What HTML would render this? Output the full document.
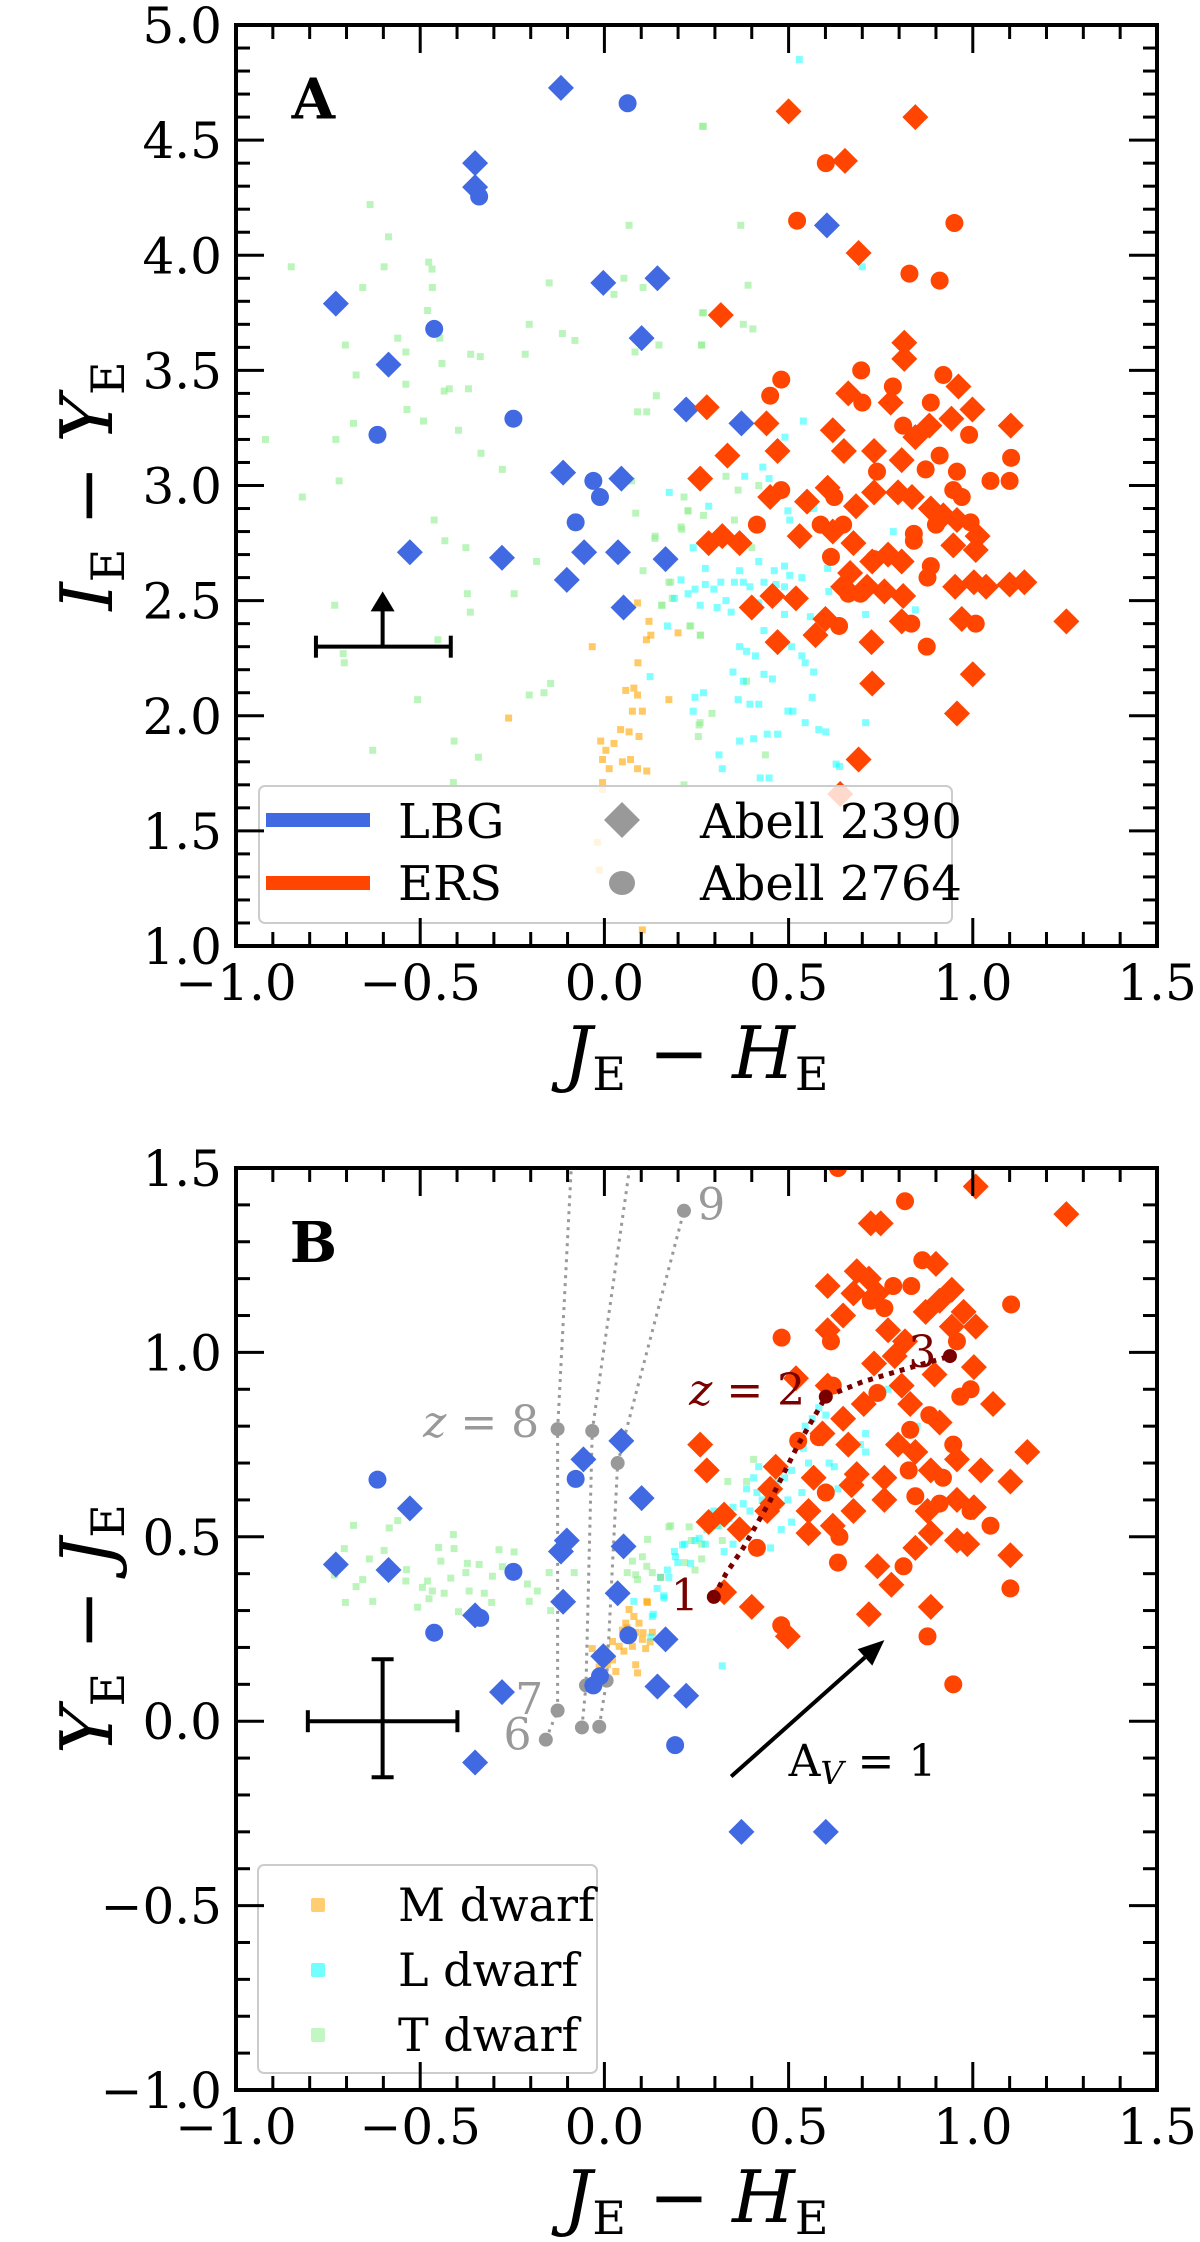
<!DOCTYPE html>
<html><head><meta charset="utf-8"><style>
html,body{margin:0;padding:0;background:#fff;}
svg{display:block;font-family:"DejaVu Serif","Liberation Serif",serif;}
</style></head><body>
<svg id="fig" xmlns="http://www.w3.org/2000/svg" width="1200" height="2242" viewBox="0 0 1200 2242"></svg>
<script>
// ===== Panel A data: J-H (x), I-Y (y) =====
const lbgA_diamond_x=[-0.118,-0.351,-0.351,-0.729,-0.586,-0.003,0.144,0.101,0.222,-0.112,0.046,-0.528,-0.278,-0.055,0.037,0.166,-0.102,0.052,0.372,0.604];
const lbgA_diamond_y=[4.727,4.40,4.296,3.79,3.525,3.88,3.90,3.64,3.33,3.056,3.03,2.71,2.686,2.71,2.71,2.68,2.59,2.47,3.27,4.13];
const lbgA_circle_x=[0.063,-0.34,-0.462,-0.616,-0.247,-0.03,-0.012,-0.078];
const lbgA_circle_y=[4.66,4.255,3.68,3.22,3.29,3.02,2.95,2.84];
const ersA_diamond_x=[0.50,0.844,0.653,0.69,0.316,0.814,0.814,0.662,0.777,0.961,0.999,1.103,0.278,0.44,0.62,0.47,0.65,0.334,0.732,0.807,0.844,0.882,0.942,0.26,0.45,0.55,0.606,0.683,0.732,0.797,0.835,0.886,0.92,0.957,1.013,0.283,0.32,0.367,0.53,0.62,0.676,0.727,0.77,0.807,0.947,1.008,0.667,0.648,0.713,0.76,0.811,0.952,1.003,1.036,1.1,1.14,1.254,0.40,0.456,0.52,0.6,0.807,0.97,0.573,0.47,0.725,1.0,0.727,0.957,0.69,0.64];
const ersA_diamond_y=[4.625,4.60,4.41,4.01,3.74,3.62,3.55,3.40,3.36,3.43,3.33,3.26,3.34,3.27,3.24,3.15,3.15,3.13,3.15,3.11,3.21,3.26,3.29,3.03,2.95,2.93,2.99,2.91,2.97,2.97,2.95,2.90,2.87,2.85,2.78,2.75,2.78,2.75,2.78,2.80,2.75,2.67,2.70,2.67,2.74,2.72,2.62,2.56,2.56,2.54,2.52,2.56,2.58,2.56,2.57,2.58,2.41,2.47,2.52,2.51,2.42,2.41,2.42,2.35,2.32,2.32,2.18,2.14,2.01,1.81,1.66];
const ersA_circle_x=[0.601,0.523,0.95,0.828,0.91,0.697,0.48,0.45,0.783,0.7,0.92,0.886,0.811,0.99,0.91,1.104,0.872,0.74,0.957,1.048,1.1,0.48,0.624,0.947,0.97,0.414,0.587,0.648,0.84,0.9,0.994,0.615,0.732,0.84,0.886,0.877,0.695,0.662,0.637,0.833,1.008,0.875];
const ersA_circle_y=[4.40,4.15,4.14,3.92,3.89,3.50,3.46,3.39,3.43,3.36,3.48,3.36,3.26,3.22,3.13,3.12,3.07,3.06,3.06,3.02,3.02,2.98,2.95,2.98,2.95,2.83,2.83,2.83,2.79,2.83,2.84,2.69,2.68,2.76,2.65,2.60,2.53,2.53,2.39,2.40,2.40,2.30];
const mdwA_x=[-0.033,0.09,0.114,0.126,0.091,0.08,0.09,0.058,0.076,0.103,0.175,0.044,0.067,0.094,-0.01,0.026,0.004,-0.005,0.049,0.071,0.09,0.115,0.013,-0.005,-0.005,-0.26,0.103,-0.019,-0.014,0.121,0.2];
const mdwA_y=[2.30,2.49,2.33,2.35,2.23,2.12,2.09,2.11,2.02,2.02,2.07,1.94,1.93,1.91,1.89,1.88,1.85,1.81,1.80,1.81,1.77,1.76,1.77,1.71,1.68,1.99,1.07,1.45,1.33,2.41,2.36];
const ldwA_x=[0.54,0.49,0.43,0.447,0.381,0.176,0.283,0.498,0.503,0.428,0.568,0.241,0.274,0.367,0.419,0.461,0.489,0.503,0.536,0.606,0.208,0.274,0.316,0.353,0.377,0.395,0.433,0.466,0.489,0.246,0.297,0.33,0.227,0.19,0.171,0.26,0.306,0.344,0.419,0.489,0.559,0.609,0.709,0.844,0.433,0.386,0.41,0.367,0.536,0.508,0.349,0.433,0.456,0.545,0.568,0.377,0.246,0.269,0.363,0.395,0.419,0.241,0.564,0.498,0.512,0.545,0.582,0.367,0.405,0.442,0.47,0.601,0.32,0.311,0.423,0.447,0.629,0.638,0.784,0.7,0.529,0.124,0.709];
const ldwA_y=[3.28,3.21,3.08,3.03,3.04,2.97,2.91,2.89,2.85,2.84,2.90,2.73,2.64,2.63,2.67,2.63,2.65,2.61,2.60,2.64,2.59,2.57,2.58,2.58,2.58,2.56,2.58,2.57,2.56,2.55,2.55,2.50,2.53,2.51,2.39,2.48,2.47,2.45,2.49,2.44,2.43,2.54,2.44,2.46,2.37,2.28,2.26,2.30,2.26,2.30,2.19,2.18,2.16,2.23,2.19,2.15,2.08,2.10,2.07,2.05,2.05,2.02,2.08,2.02,2.02,1.97,1.94,1.89,1.90,1.92,1.92,1.93,1.77,1.83,1.73,1.73,1.79,1.78,2.80,3.95,4.85,2.17,1.97];
const tdwA_x=[-0.636,-0.586,-0.598,-0.656,-0.477,-0.468,-0.467,-0.48,-0.703,-0.561,-0.539,-0.447,-0.674,-0.441,-0.539,-0.421,-0.435,-0.369,-0.363,-0.337,-0.536,-0.491,-0.681,-0.729,-0.396,-0.335,-0.277,-0.72,-0.462,-0.433,-0.376,-0.184,-0.245,-0.372,-0.364,-0.732,-0.452,-0.709,-0.706,-0.507,-0.204,-0.164,-0.146,-0.629,-0.408,-0.342,-0.41,-0.15,-0.114,-0.08,-0.204,-0.215,0.053,0.026,0.105,0.083,0.148,0.067,0.141,0.09,0.115,0.266,0.266,0.264,0.074,0.085,0.216,0.227,0.21,0.137,0.105,0.175,0.184,0.155,0.234,0.261,0.257,0.255,0.216,0.269,0.37,0.39,0.377,0.403,0.264,0.269,0.363,0.33,0.419,0.227,0.269,0.353,0.208,0.138,0.4,0.18,0.157,0.232,0.26,0.386,0.292,0.26,0.437,-0.85,-0.92,-0.82];
const tdwA_y=[4.22,4.08,3.95,3.86,3.97,3.94,3.86,3.76,3.61,3.64,3.58,3.64,3.48,3.53,3.44,3.42,3.41,3.42,3.57,3.56,3.33,3.28,3.27,3.20,3.24,3.14,3.07,3.02,2.85,2.76,2.73,2.67,2.53,2.53,2.45,2.48,2.33,2.27,2.23,2.07,2.09,2.10,2.14,1.85,1.89,1.82,1.71,3.88,3.66,3.63,3.70,3.57,3.90,3.83,3.86,3.58,3.61,4.13,3.39,3.32,3.32,4.56,3.75,3.61,3.02,2.88,2.95,2.89,2.81,2.77,2.63,2.58,2.51,2.48,2.39,2.35,1.96,1.91,1.70,4.56,4.13,3.87,3.70,3.68,3.61,3.75,2.98,3.04,3.00,2.89,2.87,2.85,2.82,2.78,2.73,2.58,2.48,2.39,2.35,2.15,2.01,1.97,1.83,3.95,3.20,2.95];

// ===== Panel B data: J-H (x), Y-J (y) =====
const lbgB_diamond_x=[-0.729,-0.586,-0.528,-0.351,-0.351,-0.278,-0.102,-0.118,-0.112,-0.057,0.046,0.101,0.052,0.036,-0.003,0.166,0.144,0.222,0.372,0.601];
const lbgB_diamond_y=[0.425,0.41,0.577,0.287,-0.112,0.079,0.49,0.46,0.324,0.71,0.76,0.605,0.474,0.347,0.176,0.222,0.094,0.069,-0.30,-0.30];
const lbgB_circle_x=[-0.616,-0.247,-0.462,-0.337,-0.078,0.065,-0.012,-0.03,0.192];
const lbgB_circle_y=[0.655,0.405,0.24,0.28,0.657,0.233,0.122,0.097,-0.065];
const ersB_diamond_x=[1.008,1.254,0.723,0.75,0.90,0.685,0.606,0.718,0.676,0.74,0.943,0.91,0.648,0.606,0.975,1.008,0.943,0.77,0.816,0.872,0.732,0.788,1.003,0.896,0.807,0.52,0.606,0.704,0.83,1.055,0.648,0.91,0.592,0.26,0.662,0.797,1.148,0.844,0.278,0.465,0.568,0.685,0.76,0.886,0.957,1.022,1.102,0.45,0.671,0.76,0.957,1.003,0.554,0.676,0.456,0.325,0.283,0.367,0.442,0.62,0.877,0.886,0.554,0.957,0.985,0.844,1.102,0.741,0.779,0.325,0.40,0.886,0.718,0.498];
const ersB_diamond_y=[1.45,1.375,1.35,1.35,1.24,1.22,1.18,1.20,1.16,1.16,1.17,1.14,1.10,1.06,1.11,1.07,1.07,1.06,1.03,1.11,0.97,0.99,0.96,0.94,0.91,0.93,0.91,0.86,0.86,0.86,0.82,0.81,0.78,0.75,0.75,0.75,0.73,0.73,0.68,0.69,0.66,0.67,0.66,0.68,0.71,0.68,0.65,0.63,0.64,0.60,0.60,0.58,0.57,0.57,0.59,0.56,0.54,0.52,0.57,0.53,0.57,0.51,0.51,0.49,0.48,0.47,0.45,0.42,0.37,0.35,0.31,0.31,0.29,0.23];
const ersB_circle_x=[0.816,0.863,0.784,0.833,0.723,0.76,1.104,0.481,0.615,0.957,0.62,0.994,0.966,0.741,0.882,0.582,0.83,0.947,0.826,0.919,0.601,0.844,0.91,0.994,1.048,0.638,0.414,0.634,0.812,1.102,0.48,0.877,0.947,0.526,0.634];
const ersB_circle_y=[1.41,1.25,1.18,1.18,1.14,1.12,1.13,1.04,1.03,1.03,0.91,0.90,0.88,0.89,0.83,0.77,0.79,0.75,0.68,0.66,0.62,0.61,0.59,0.57,0.53,0.50,0.47,0.43,0.42,0.36,0.26,0.23,0.10,0.76,1.50];
const mdwB_x=[0.067,0.08,0.058,0.094,0.049,0.085,0.103,0.076,0.04,0.022,-0.033,0.004,-0.019,0.053,0.112,0.022,0.008,0.031,-0.014,0.09,0.117,0.153,0.166,0.062,0.13,0.085,0.115,0.105,0.124];
const mdwB_y=[0.303,0.284,0.266,0.266,0.247,0.241,0.222,0.203,0.203,0.216,0.197,0.197,0.178,0.19,0.197,0.166,0.153,0.135,0.147,0.131,0.322,0.39,0.228,0.253,0.241,0.153,0.325,0.24,0.215];
const ldwB_x=[0.582,0.601,0.564,0.545,0.709,0.695,0.709,0.624,0.61,0.54,0.522,0.554,0.508,0.489,0.47,0.405,0.419,0.386,0.414,0.377,0.349,0.32,0.339,0.306,0.278,0.246,0.218,0.19,0.199,0.171,0.152,0.143,0.161,0.133,0.32,0.48,0.508,0.536,0.634,0.77,0.849,0.451,0.423,0.325,0.349,0.274,0.498,0.428,0.395,0.372,0.297,0.193,0.212,0.234,0.257,0.175,0.162,0.13,0.08,0.126];
const ldwB_y=[0.85,0.83,0.82,0.80,0.78,0.75,0.73,0.69,0.70,0.74,0.75,0.70,0.68,0.66,0.65,0.66,0.69,0.63,0.62,0.59,0.58,0.57,0.55,0.53,0.52,0.49,0.48,0.46,0.43,0.41,0.39,0.36,0.34,0.29,0.15,0.52,0.54,0.62,0.63,0.90,0.80,0.47,0.46,0.46,0.48,0.48,0.60,0.60,0.57,0.50,0.57,0.446,0.478,0.428,0.496,0.39,0.334,0.284,0.325,0.228];
const tdwB_x=[-0.681,-0.561,-0.584,-0.706,-0.638,-0.598,-0.733,-0.656,-0.674,-0.537,-0.539,-0.48,-0.494,-0.467,-0.45,-0.444,-0.41,-0.408,-0.417,-0.435,-0.476,-0.507,-0.703,-0.629,-0.376,-0.372,-0.34,-0.367,-0.326,-0.306,-0.286,-0.304,-0.277,-0.245,-0.396,-0.209,-0.182,-0.204,-0.15,-0.146,-0.082,0.076,0.117,0.085,0.175,0.23,0.13,0.062,0.103,0.09,0.18,0.236,0.264,0.311,0.335,0.405,0.386,0.218,0.246,0.115,0.264,0.32];
const tdwB_y=[0.531,0.544,0.524,0.468,0.44,0.463,0.396,0.384,0.365,0.411,0.38,0.38,0.363,0.353,0.471,0.434,0.506,0.468,0.388,0.347,0.332,0.309,0.322,0.325,0.403,0.428,0.425,0.353,0.347,0.322,0.465,0.393,0.419,0.459,0.297,0.372,0.353,0.325,0.403,0.3,0.403,0.434,0.493,0.397,0.527,0.527,0.403,0.403,0.446,0.384,0.53,0.49,0.48,0.53,0.65,0.71,0.65,0.43,0.41,0.42,0.44,0.49];
const track1_x=[-0.159,-0.127,-0.127,-0.091,-0.085];
const track1_y=[-0.05,0.029,0.792,1.48,1.60];
const track2_x=[-0.061,-0.05,-0.033,0.067,0.075];
const track2_y=[-0.017,0.097,0.787,1.49,1.60];
const track3_x=[-0.014,0.006,0.036,0.216];
const track3_y=[-0.015,0.11,0.70,1.384];
const track1_dots=[0,1,2];
const track2_dots=[0,1,2];
const track3_dots=[0,1,2,3];
const ersTrack_x=[0.297,0.33,0.377,0.451,0.526,0.601,0.70,0.80,0.938];
const ersTrack_y=[0.337,0.40,0.47,0.60,0.75,0.88,0.92,0.95,0.99];
const ersTrack_dots=[0,5,8];
const tickX=[-1.0,-0.5,0.0,0.5,1.0,1.5];
const tickYA=[1.0,1.5,2.0,2.5,3.0,3.5,4.0,4.5,5.0];
const tickYB=[-1.0,-0.5,0.0,0.5,1.0,1.5];

const NS="http://www.w3.org/2000/svg";
const svg=document.getElementById('fig');
function el(tag,attrs,parent){const e=document.createElementNS(NS,tag);for(const k in attrs)e.setAttribute(k,attrs[k]);(parent||svg).appendChild(e);return e;}
const XL=236,XR=1157;
function mkX(){return v=>XL+(v+1.0)/2.5*(XR-XL);}
const PA={top:25,bot:946,ymin:1.0,ymax:5.0};
const PB={top:1168,bot:2090,ymin:-1.0,ymax:1.5};
function mkY(P){return v=>P.bot-(v-P.ymin)/(P.ymax-P.ymin)*(P.bot-P.top);}
const sx=mkX();
const syA=mkY(PA), syB=mkY(PB);
const fmt=v=>(v<0?'\u2212':'')+Math.abs(v).toFixed(1);

function clip(id,P){const d=el('defs',{});const c=el('clipPath',{id:id},d);el('rect',{x:XL,y:P.top,width:XR-XL,height:P.bot-P.top},c);}
clip('clipA',PA);clip('clipB',PB);

const SQ=7, DM=13, CR=9;
function squares(g,xs,ys,sy,color,op,name){
  for(let i=0;i<xs.length;i++){
    const r=el('rect',{x:sx(xs[i])-SQ/2,y:sy(ys[i])-SQ/2,width:SQ,height:SQ,fill:color,'fill-opacity':op},g);
    
    
  }
}
function diamonds(g,xs,ys,sy,color,name){
  for(let i=0;i<xs.length;i++){
    const cx=sx(xs[i]),cy=sy(ys[i]);
    const p=el('path',{d:`M${cx-DM} ${cy}L${cx} ${cy-DM}L${cx+DM} ${cy}L${cx} ${cy+DM}Z`,fill:color},g);
    
    
  }
}
function circles(g,xs,ys,sy,color,name){
  for(let i=0;i<xs.length;i++){
    const c=el('ellipse',{cx:sx(xs[i]),cy:sy(ys[i]),rx:CR,ry:CR,fill:color},g);
    
    
  }
}
function axes(P,sy,ticksY,minorY,name){
  const g=el('g',{});
  
  
  for(let k=-10;k<=15;k++){const v=k/10;const x=sx(v);const major=(k%5===0);const L=major?28:14;
    el('line',{x1:x,y1:P.bot,x2:x,y2:P.bot-L,stroke:'#000','stroke-width':3},g);
    el('line',{x1:x,y1:P.top,x2:x,y2:P.top+L,stroke:'#000','stroke-width':3},g);}
  for(let v=P.ymin;v<=P.ymax+1e-6;v+=minorY){const y=sy(v);const major=Math.abs(Math.round(v*2)-v*2)<1e-6;const L=major?28:14;
    el('line',{x1:XL,y1:y,x2:XL+L,y2:y,stroke:'#000','stroke-width':3},g);
    el('line',{x1:XR,y1:y,x2:XR-L,y2:y,stroke:'#000','stroke-width':3},g);}
  el('rect',{x:XL,y:P.top,width:XR-XL,height:P.bot-P.top,fill:'none',stroke:'#000','stroke-width':4},g);
  tickX.forEach(v=>{const t=el('text',{x:sx(v),y:P.bot+54,'text-anchor':'middle','font-size':50},g);t.textContent=fmt(v);
    });
  ticksY.forEach(v=>{const t=el('text',{x:222,y:sy(v)+18,'text-anchor':'end','font-size':50},g);t.textContent=fmt(v);
    });
}
function axTitle(parent,x,y,rot,a,b,name){
  const t=el('text',{x:x,y:y,'text-anchor':'middle','font-size':72,transform:rot?`rotate(-90 ${x} ${y})`:''},parent);
  
  
  t.innerHTML=`<tspan font-style="italic">${a}</tspan><tspan font-size="46" dy="12">E</tspan><tspan dy="-12"> \u2212 </tspan><tspan font-style="italic">${b}</tspan><tspan font-size="46" dy="12">E</tspan>`;
}

// ===== PANEL A =====
const gA=el('g',{'clip-path':'url(#clipA)'});


squares(gA,tdwA_x,tdwA_y,syA,'#90ee90',0.6,'t-dwarf-point');
squares(gA,mdwA_x,mdwA_y,syA,'#ffa500',0.6,'m-dwarf-point');
squares(gA,ldwA_x,ldwA_y,syA,'#00ffff',0.5,'l-dwarf-point');
diamonds(gA,lbgA_diamond_x,lbgA_diamond_y,syA,'#4169e1','lbg-abell2390-point');
circles(gA,lbgA_circle_x,lbgA_circle_y,syA,'#4169e1','lbg-abell2764-point');
diamonds(gA,ersA_diamond_x,ersA_diamond_y,syA,'#ff4500','ers-abell2390-point');
circles(gA,ersA_circle_x,ersA_circle_y,syA,'#ff4500','ers-abell2764-point');
const ebA=el('g',{stroke:'#000','stroke-width':4,fill:'none'});


el('line',{x1:sx(-0.783),y1:syA(2.30),x2:sx(-0.417),y2:syA(2.30)},ebA);
el('line',{x1:sx(-0.783),y1:syA(2.30)-11,x2:sx(-0.783),y2:syA(2.30)+11},ebA);
el('line',{x1:sx(-0.417),y1:syA(2.30)-11,x2:sx(-0.417),y2:syA(2.30)+11},ebA);
el('line',{x1:sx(-0.602),y1:syA(2.30),x2:sx(-0.602),y2:syA(2.54)+18},ebA);
el('path',{d:`M${sx(-0.602)-12} ${syA(2.54)+20}L${sx(-0.602)} ${syA(2.54)}L${sx(-0.602)+12} ${syA(2.54)+20}Z`,fill:'#000',stroke:'none'},ebA);
const lgA=el('g',{});


el('rect',{x:259,y:786,width:693,height:137,rx:6,fill:'#fff','fill-opacity':0.8,stroke:'#cccccc','stroke-width':2},lgA);
el('line',{x1:266,y1:820,x2:370,y2:820,stroke:'#4169e1','stroke-width':14},lgA);
el('line',{x1:266,y1:883,x2:370,y2:883,stroke:'#ff4500','stroke-width':14},lgA);
[['LBG',838],['ERS',900]].forEach(([s,y])=>{const t=el('text',{x:398,y:y,'font-size':48},lgA);t.textContent=s;});
el('path',{d:'M604 820L622 802L640 820L622 838Z',fill:'#999'},lgA);
el('ellipse',{cx:622,cy:883,rx:13,ry:12,fill:'#999'},lgA);
[['Abell 2390',838],['Abell 2764',900]].forEach(([s,y])=>{const t=el('text',{x:700,y:y,'font-size':48},lgA);t.textContent=s;});
axes(PA,syA,tickYA,0.1,'panel-a-axes');
const labA=el('text',{x:sx(-0.79),y:syA(4.68)+20,'font-size':56,'font-weight':'bold','text-anchor':'middle'});
labA.textContent='A';


axTitle(svg,696,1078,false,'J','H','x-axis-title-a');
axTitle(svg,112,486,true,'I','Y','y-axis-title-a');

// ===== PANEL B =====
const gB=el('g',{'clip-path':'url(#clipB)'});


squares(gB,tdwB_x,tdwB_y,syB,'#90ee90',0.6,'t-dwarf-point');
squares(gB,mdwB_x,mdwB_y,syB,'#ffa500',0.6,'m-dwarf-point');
squares(gB,ldwB_x,ldwB_y,syB,'#00ffff',0.5,'l-dwarf-point');
function track(xs,ys,dots,color,width,dash,name){
  const pts=xs.map((x,i)=>sx(x)+','+syB(ys[i])).join(' ');
  const pl=el('polyline',{points:pts,fill:'none',stroke:color,'stroke-width':width,'stroke-dasharray':dash},gB);
  
  
  dots.forEach(i=>{el('circle',{cx:sx(xs[i]),cy:syB(ys[i]),r:7,fill:color},gB);});
}
track(track1_x,track1_y,track1_dots,'#999999',3,'3 5','lbg-track-1');
track(track2_x,track2_y,track2_dots,'#999999',3,'3 5','lbg-track-2');
track(track3_x,track3_y,track3_dots,'#999999',3,'3 5','lbg-track-3');
diamonds(gB,lbgB_diamond_x,lbgB_diamond_y,syB,'#4169e1','lbg-abell2390-point');
circles(gB,lbgB_circle_x,lbgB_circle_y,syB,'#4169e1','lbg-abell2764-point');
diamonds(gB,ersB_diamond_x,ersB_diamond_y,syB,'#ff4500','ers-abell2390-point');
circles(gB,ersB_circle_x,ersB_circle_y,syB,'#ff4500','ers-abell2764-point');
track(ersTrack_x,ersTrack_y,ersTrack_dots,'#7a0000',5,'5 6','ers-track');
function ann(x,y,s,color,anchor,name,italicZ){
  const t=el('text',{x:x,y:y,'font-size':44,fill:color,'text-anchor':anchor});
  
  
  if(italicZ){t.innerHTML=`<tspan font-style="italic">z</tspan> = ${s}`;}else t.textContent=s;
}
ann(sx(0.218),syB(0.30),'1','#7a0000','middle','z-label-1');
ann(sx(0.545),syB(0.857),'2','#7a0000','end','z-label-2',true);
ann(sx(0.863),syB(0.96),'3','#7a0000','middle','z-label-3');
ann(sx(-0.177),syB(0.77),'8','#999999','end','z-label-8',true);
ann(sx(-0.204),syB(0.02),'7','#999999','middle','z-label-7');
ann(sx(-0.236),syB(-0.077),'6','#999999','middle','z-label-6');
ann(sx(0.29),syB(1.36),'9','#999999','middle','z-label-9');
const arr=el('g',{});


{const x1=sx(0.344),y1=syB(-0.15),x2=sx(0.76),y2=syB(0.22);
 const ang=Math.atan2(y2-y1,x2-x1),hl=26,hw=11;
 const bx=x2-hl*Math.cos(ang),by=y2-hl*Math.sin(ang);
 el('line',{x1:x1,y1:y1,x2:bx,y2:by,stroke:'#000','stroke-width':4},arr);
 el('path',{d:`M${x2} ${y2}L${bx+hw*Math.sin(ang)} ${by-hw*Math.cos(ang)}L${bx-hw*Math.sin(ang)} ${by+hw*Math.cos(ang)}Z`,fill:'#000'},arr);
 const t=el('text',{x:sx(0.50),y:syB(-0.148),'font-size':44},arr);
 t.innerHTML='A<tspan font-style="italic" font-size="32" dy="8">V</tspan><tspan dy="-8"> = 1</tspan>';}
const ebB=el('g',{stroke:'#000','stroke-width':4});


el('line',{x1:sx(-0.805),y1:syB(0),x2:sx(-0.399),y2:syB(0)},ebB);
el('line',{x1:sx(-0.805),y1:syB(0)-11,x2:sx(-0.805),y2:syB(0)+11},ebB);
el('line',{x1:sx(-0.399),y1:syB(0)-11,x2:sx(-0.399),y2:syB(0)+11},ebB);
el('line',{x1:sx(-0.602),y1:syB(0.168),x2:sx(-0.602),y2:syB(-0.152)},ebB);
el('line',{x1:sx(-0.602)-11,y1:syB(0.168),x2:sx(-0.602)+11,y2:syB(0.168)},ebB);
el('line',{x1:sx(-0.602)-11,y1:syB(-0.152),x2:sx(-0.602)+11,y2:syB(-0.152)},ebB);
const lgB=el('g',{});


el('rect',{x:258,y:1865,width:339,height:208,rx:6,fill:'#fff','fill-opacity':0.8,stroke:'#cccccc','stroke-width':2},lgB);
[['M dwarf','#ffa500',1905],['L dwarf','#00ffff',1970],['T dwarf','#90ee90',2035]].forEach(([s,c,y])=>{
  el('rect',{x:311,y:y-7,width:14,height:14,rx:2,fill:c,'fill-opacity':0.55},lgB);
  const t=el('text',{x:398,y:y+16,'font-size':46},lgB);t.textContent=s;
  });
axes(PB,syB,tickYB,0.1,'panel-b-axes');
const labB=el('text',{x:sx(-0.79),y:syB(1.30)+20,'font-size':56,'font-weight':'bold','text-anchor':'middle'});
labB.textContent='B';


axTitle(svg,696,2222,false,'J','H','x-axis-title-b');
axTitle(svg,112,1629,true,'Y','J','y-axis-title-b');
</script>
</body></html>
